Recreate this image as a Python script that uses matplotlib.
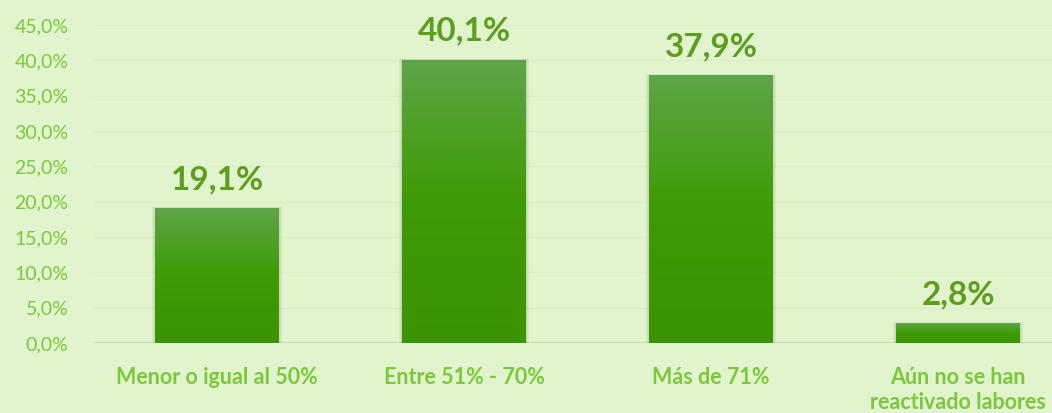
import matplotlib
matplotlib.use("Agg")
import matplotlib.pyplot as plt
import numpy as np
from matplotlib.colors import LinearSegmentedColormap
from matplotlib.patches import Rectangle

categories = ["Menor o igual al 50%", "Entre 51% - 70%", "Más de 71%", "Aún no se han\nreactivado labores"]
values = [19.1, 40.1, 37.9, 2.8]
value_labels = ["19,1%", "40,1%", "37,9%", "2,8%"]
yticks = [0, 5, 10, 15, 20, 25, 30, 35, 40, 45]
ytick_labels = ["0,0%", "5,0%", "10,0%", "15,0%", "20,0%", "25,0%", "30,0%", "35,0%", "40,0%", "45,0%"]

bg = "#E2F4CE"
font = ["Lato", "DejaVu Sans"]

W, H = 1052, 413
fig = plt.figure(figsize=(W / 100, H / 100), dpi=100, facecolor=bg)
left = 93.5 / W
bottom = (H - 343) / H
top = (H - 25) / H
width = 988 / W
ax = fig.add_axes([left, bottom, width, top - bottom])
ax.set_facecolor(bg)

for s in ax.spines.values():
    s.set_visible(False)

for t in yticks[1:]:
    ax.axhline(t, color="#D8EEC4", lw=1, zorder=0)
ax.axhline(0, color="#C8D8B8", lw=1.2, zorder=1)

cmap = LinearSegmentedColormap.from_list("g", [(0, "#3A9400"), (0.5, "#3E9C04"), (1, "#5EA548")])
grad = np.linspace(0, 1, 256).reshape(-1, 1)
bw = 0.5
for i, v in enumerate(values):
    x0 = i - bw / 2
    for k, a in enumerate([0.06, 0.06, 0.07]):
        d = 0.005 * (k + 1)
        ax.add_patch(Rectangle((x0 - d, 0), bw + 2 * d, v + 0.04 * (k + 1), color="#506040", alpha=a, lw=0, zorder=2))
    rect = Rectangle((x0, 0), bw, v, facecolor="none", edgecolor="none", zorder=3)
    ax.add_patch(rect)
    im = ax.imshow(grad, extent=[x0, x0 + bw, 0, v], origin="lower", cmap=cmap, aspect="auto", zorder=3)
    im.set_clip_path(rect)
    ax.text(i, v + 2.0, value_labels[i], ha="center", va="bottom", fontsize=24, fontweight="bold",
            color="#5E9E1E", family=font)

ax.set_xlim(-0.5, len(categories) - 0.5)
ax.set_ylim(0, 45)
ax.set_yticks(yticks)
ax.set_yticklabels(ytick_labels, fontsize=14, color="#7CC83A", family=font)
ax.set_xticks(range(len(categories)))
ax.set_xticklabels(categories, fontsize=15.5, fontweight="bold", color="#7CC83A", family=font, linespacing=1.25)
ax.tick_params(axis="y", length=0, pad=18)
ax.tick_params(axis="x", length=0, pad=17)

fig.savefig("out.png", dpi=100, facecolor=bg)
